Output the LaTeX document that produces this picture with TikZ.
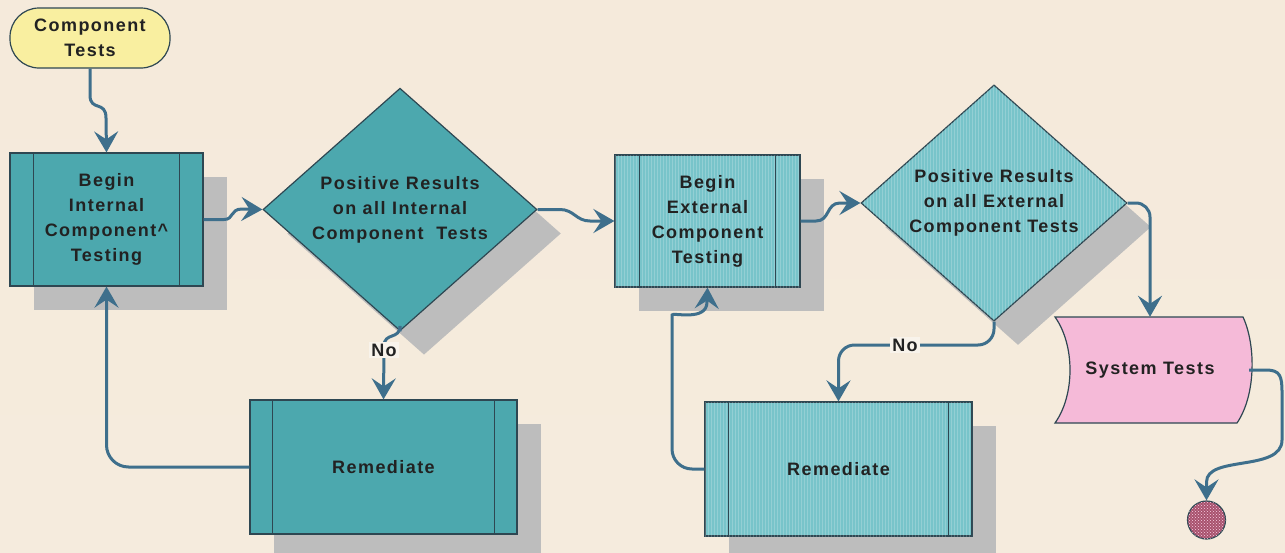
\documentclass[tikz,border=0pt]{standalone}
\usepackage{fontspec}
\setmainfont{Liberation Sans}
\newfontfamily\lblfont[LetterSpace=8]{Liberation Sans}
\usetikzlibrary{shapes.geometric,shadows,patterns,arrows.meta}
\definecolor{bgtop}{HTML}{F5EADB}
\definecolor{bgmid}{HTML}{FAF6F1}
\definecolor{bgbot}{HTML}{F5EBDD}
\definecolor{tealA}{HTML}{4CA8AE}
\definecolor{tealB}{HTML}{78C4CA}
\definecolor{edgec}{HTML}{2E4752}
\definecolor{connc}{HTML}{3E6F8C}
\definecolor{shadowc}{HTML}{BDBDBD}
\definecolor{yellowc}{HTML}{F9EFA0}
\definecolor{pinkc}{HTML}{F5BAD8}
\definecolor{endc}{HTML}{A8526E}
\definecolor{textc}{HTML}{222222}
\tikzset{
  lbl/.style={font=\lblfont\bfseries\fontsize{18}{25}\selectfont, text=textc, align=center},
  shad/.style={general shadow={shadow xshift=24pt, shadow yshift=-24pt, fill=shadowc}},
  boxA/.style={lbl, rectangle, draw=edgec, line width=1.2pt, fill=tealA, shad, inner sep=0pt},
  boxB/.style={boxA, fill=tealB, postaction={pattern=vertical lines, pattern color=white, opacity=0.2}},
  decA/.style={lbl, diamond, draw=edgec, line width=1.2pt, fill=tealA, shad, inner sep=0pt},
  decB/.style={decA, fill=tealB, postaction={pattern=vertical lines, pattern color=white, opacity=0.2}},
  conn/.style={draw=connc, line width=3pt, -{Stealth[length=21pt,width=24pt,inset=8pt]}},
  inner/.style={draw=edgec, line width=1.2pt},
  nolbl/.style={lbl, fill=bgmid!70!bgbot, inner sep=2pt}
}
\begin{document}
\begin{tikzpicture}[x=1pt, y=-1pt]
\useasboundingbox (0,0) rectangle (1285,552);
\shade[top color=bgtop, middle color=bgmid, bottom color=bgbot] (0,0) rectangle (1285,552);

% start terminal
\node[lbl, rectangle, rounded corners=29pt, draw=edgec, line width=1.2pt, fill=yellowc,
      minimum width=160pt, minimum height=60pt, inner sep=0pt] (st) at (90,38) {Component\\Tests};

% begin internal
\node[boxA, minimum width=193pt, minimum height=133pt] (b1) at (106.5,219.5)
  {Begin\\Internal\\Component\textasciicircum\\Testing};
\draw[inner] ([xshift=24pt]b1.north west) -- ([xshift=24pt]b1.south west);
\draw[inner] ([xshift=-24pt]b1.north east) -- ([xshift=-24pt]b1.south east);

% decision internal
\node[decA, minimum width=274pt, minimum height=205pt] (d1) at (400,209.5)
  {Positive Results\\on all Internal\\Component\ \ Tests};

% remediate 1
\node[boxA, minimum width=267pt, minimum height=134pt] (r1) at (383.5,467) {Remediate};
\draw[inner] ([xshift=23pt]r1.north west) -- ([xshift=23pt]r1.south west);
\draw[inner] ([xshift=-23pt]r1.north east) -- ([xshift=-23pt]r1.south east);

% begin external
\node[boxB, minimum width=185pt, minimum height=132pt] (b2) at (707.5,221)
  {Begin\\External\\Component\\Testing};
\draw[inner] ([xshift=25pt]b2.north west) -- ([xshift=25pt]b2.south west);
\draw[inner] ([xshift=-25pt]b2.north east) -- ([xshift=-25pt]b2.south east);

% decision external
\node[decB, minimum width=266pt, minimum height=210pt] (d2) at (994,203)
  {Positive Results\\on all External\\Component Tests};

% remediate 2
\node[boxB, minimum width=267pt, minimum height=134pt] (r2) at (838.5,469) {Remediate};
\draw[inner] ([xshift=24pt]r2.north west) -- ([xshift=24pt]r2.south west);
\draw[inner] ([xshift=-24pt]r2.north east) -- ([xshift=-24pt]r2.south east);

% system tests (stored data shape)
\draw[draw=edgec, line width=1.2pt, fill=pinkc]
  (1055,317) -- (1243,317) .. controls (1256,345) and (1256,395) .. (1237,423)
  -- (1055,423) .. controls (1075,395) and (1075,345) .. (1055,317) -- cycle;
\node[lbl, minimum width=190pt, minimum height=106pt, inner sep=0pt] (sys) at (1150,370) {System Tests};

% end circle
\node[circle, draw=edgec, line width=1.2pt, fill=endc, minimum size=38pt, inner sep=0pt,
      postaction={pattern=crosshatch dots, pattern color=pinkc!70!white}] (end) at (1206.5,520) {};

% connectors
\coordinate (no1) at (384,350);
\coordinate (no2) at (838.5,345);
\coordinate (loop2) at (672,335);

\draw[conn] (st.south) -- (90,95) .. controls (90,112) and (106,100) .. (106,118) -- (b1.north);
\draw[conn] (b1.east) -- (224,219.5) .. controls (234,219.5) and (230,209) .. (242,209) -- (d1.west);
\draw[conn] (d1.south) -- (400,326) .. controls (400,340) and (384,332) .. (384,346) -- (r1.north);
\node[nolbl] at (no1) {No};
\draw[conn, rounded corners=22pt] (r1.west) -| (b1.south);
\draw[conn] (d1.east) -- (560,209.5) .. controls (574,209.5) and (576,221) .. (590,221) -- (b2.west);
\draw[conn] (b2.east) -- (816,221) .. controls (830,221) and (826,203) .. (840,203) -- (d2.west);
\draw[conn, rounded corners=14pt] (d2.east) -| (sys.north);
\draw[conn, rounded corners=16pt] (d2.south) |- (no2) -- (r2.north);
\node[nolbl] at (905,345) {No};
\draw[conn, rounded corners=20pt] (r2.west) -| (loop2) [sharp corners] .. controls (672,312) and (707,322) .. (707,302) -- (b2.south);
\draw[conn] ([xshift=4pt]sys.east) -- (1266,370) .. controls (1280,370) and (1282,376) .. (1282,392)
  -- (1282,440) .. controls (1282,472) and (1206.5,455) .. (1206.5,482) -- (end.north);
\end{tikzpicture}
\end{document}
